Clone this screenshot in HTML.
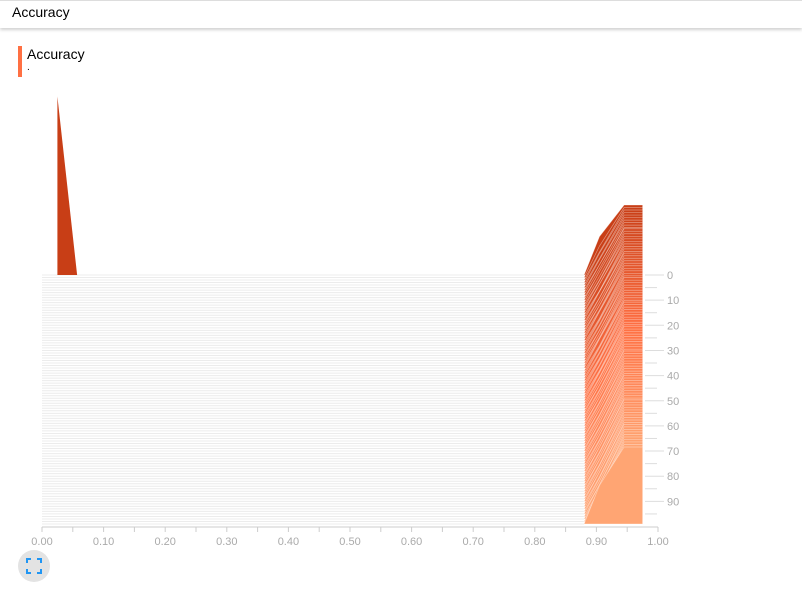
<!DOCTYPE html>
<html><head><meta charset="utf-8"><style>
body{margin:0;width:802px;height:593px;overflow:hidden;background:#fff;font-family:"Liberation Sans",sans-serif;position:relative}
#hdr{position:absolute;left:0;top:0;width:802px;height:27px;background:#fff;box-shadow:0 2px 3px rgba(0,0,0,.18);border-top:1px solid #ddd}
#hdr span{position:absolute;left:12px;top:3px;font-size:14px;color:#000}
#bar{position:absolute;left:18px;top:46px;width:4px;height:31px;background:#ff7043}
#ttl{position:absolute;left:27px;top:46px;font-size:14px;color:#000}
#sub{position:absolute;left:27px;top:62px;font-size:10px;color:#000}
#btn{position:absolute;left:18px;top:550px;width:32px;height:32px;border-radius:50%;background:#e3e3e3}
svg{position:absolute;left:0;top:0}
</style></head><body>
<div id="hdr"><span>Accuracy</span></div>
<div id="bar"></div>
<div id="ttl">Accuracy</div>
<div id="sub">.</div>
<div id="btn">
<svg width="32" height="32" style="position:absolute;left:0;top:0"><path d="M9 13V9h4M19 9h4v4M23 19v4h-4M13 23H9v-4" stroke="#2196f3" stroke-width="2" fill="none"/></svg></div>
<svg id="chart" width="802" height="593"></svg>
<script>
const steps=[];for(let i=0;i<100;i++)steps.push(i);
const binX=[0.88,0.905,0.945,0.975];
const knee=[0.55,0.45,0.4,0.42,0.38,0.4,0.36,0.4,0.38,0.35,0.4,0.37,0.35,0.38,0.36,0.4,0.34,0.37,0.4,0.35,0.38,0.36,0.34,0.38,0.35,0.37,0.4,0.34,0.36,0.38,0.35,0.37,0.34,0.38,0.36,0.35,0.37,0.4,0.34,0.36,0.38,0.35,0.37,0.34,0.36,0.38,0.35,0.37,0.34,0.36,0.38,0.35,0.37,0.36,0.34,0.38,0.35,0.37,0.36,0.34,0.38,0.35,0.37,0.36,0.34,0.38,0.35,0.37,0.36,0.34,0.38,0.35,0.37,0.36,0.34,0.38,0.35,0.37,0.36,0.34,0.38,0.35,0.37,0.36,0.34,0.38,0.35,0.37,0.36,0.34,0.38,0.35,0.37,0.36,0.34,0.38,0.35,0.37,0.4,0.5];
const peak=[1.0,1.02,1.03,1.04,1.05,1.06,1.07,1.08,1.09,1.1];
const spikeX=[0.025,0.025,0.057];
const spikeY=[0,2.55,0];
const xTicks=[0,0.1,0.2,0.3,0.4,0.5,0.6,0.7,0.8,0.9,1.0];
const yTicks=[0,10,20,30,40,50,60,70,80,90];
const NS="http://www.w3.org/2000/svg",svg=document.getElementById('chart');
const X=v=>42+v*616, B=s=>275+s*2.515, H=v=>v*70;
function mk(t,a){const e=document.createElementNS(NS,t);for(const k in a)e.setAttribute(k,a[k]);svg.appendChild(e);return e;}
function col(t){const a=[200,62,22],b=[255,165,115],m=[255,112,67];let c;if(t<0.5){const u=t*2;c=a.map((v,i)=>Math.round(v+(m[i]-v)*u));}else{const u=(t-0.5)*2;c=m.map((v,i)=>Math.round(v+(b[i]-v)*u));}return`rgb(${c})`;}
steps.forEach((s,i)=>{
 const b=B(s);const pk=peak[Math.min(9,Math.floor(i/10))];
 const g=mk('g',{});
 const ln=document.createElementNS(NS,'line');ln.setAttribute('x1',X(0));ln.setAttribute('x2',X(binX[0]));ln.setAttribute('y1',b);ln.setAttribute('y2',b);ln.setAttribute('stroke','#ececec');ln.setAttribute('stroke-width','1');g.appendChild(ln);
 let pts=[[X(binX[0]),b],[X(binX[1]),b-H(knee[i]*pk)],[X(binX[2]),b-H(pk)],[X(binX[3]),b-H(pk)],[X(binX[3]),b]];
 if(i===0){const sp=spikeX.map((x,j)=>[X(x),b-H(spikeY[j])]);const p2=document.createElementNS(NS,'polygon');p2.setAttribute('points',sp.map(p=>p.join(',')).join(' '));p2.setAttribute('fill',col(0));g.appendChild(p2);}
 const p=document.createElementNS(NS,'polygon');p.setAttribute('points',pts.map(p=>p.join(',')).join(' '));p.setAttribute('fill',col(i/99));p.setAttribute('stroke','rgba(255,255,255,0.45)');p.setAttribute('stroke-width','0.7');g.appendChild(p);
});
mk('line',{x1:42,x2:658,y1:527,y2:527,stroke:'#ccc'});
for(let v=0;v<=1.0001;v+=0.05){mk('line',{x1:X(v),x2:X(v),y1:527,y2:532,stroke:'#ccc'});}
xTicks.forEach(v=>{const t=mk('text',{x:X(v),y:545,'text-anchor':'middle','font-size':'11',fill:'#aaa'});t.textContent=v.toFixed(2);});
for(let s=0;s<100;s+=5){mk('line',{x1:645,x2:s%10?657:664,y1:B(s),y2:B(s),stroke:'#ddd'});}
yTicks.forEach(v=>{const t=mk('text',{x:667,y:B(v)+4,'font-size':'11',fill:'#aaa'});t.textContent=v;});
</script>
</body></html>
